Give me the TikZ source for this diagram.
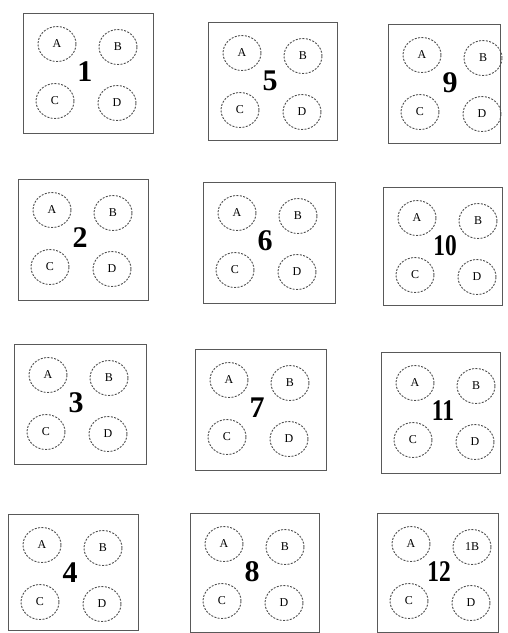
\documentclass[tikz,border=0pt]{standalone}
\usepackage{fontspec}
\setmainfont{Liberation Serif}
\usetikzlibrary{shapes.geometric}

\tikzset{
  panel/.style={draw=black!65,line width=0.9pt},
  hole/.style={ellipse,draw=black!70,line width=0.9pt,dash pattern=on 2pt off 1.4pt,
    minimum width=38pt,minimum height=35pt,inner sep=0pt,font=\fontsize{12}{14}\selectfont},
  tag/.style={font=\fontsize{30}{32}\selectfont\bfseries,inner sep=0pt}
}

\begin{document}
\begin{tikzpicture}[x=1pt,y=-1pt]
  \useasboundingbox (0,0) rectangle (507,633);
  % number / left / top / right / bottom / label of B / width of number
  \foreach \n/\l/\t/\r/\b/\lb/\xs in {1/23/13/153/133/B/1, 2/18/179/148/300/B/1,
      3/14/344/146/464/B/1, 4/8/514/138/630/B/1, 5/208/22/337/140/B/1,
      6/203/182/335/303/B/1, 7/195/349/326/470/B/1, 8/190/513/319/632/B/1,
      9/388/24/500/143/B/1, 10/383/187/502/305/B/0.78, 11/381/352/500/473/B/0.78,
      12/377/513/498/632/1B/0.78}{
    \draw[panel] (\l,\t) rectangle (\r,\b);
    \node[hole] (A\n) at (\l+34,\t+31) {A};
    \node[hole] (B\n) at (\l+95,\t+34) {\lb};
    \node[hole] (C\n) at (\l+32,\t+88) {C};
    \node[hole] (D\n) at (\l+94,\t+90) {D};
    \node[tag] (N\n) at (\l+62,\t+59) {\scalebox{\xs}[1]{\n}};
  }
\end{tikzpicture}
\end{document}
